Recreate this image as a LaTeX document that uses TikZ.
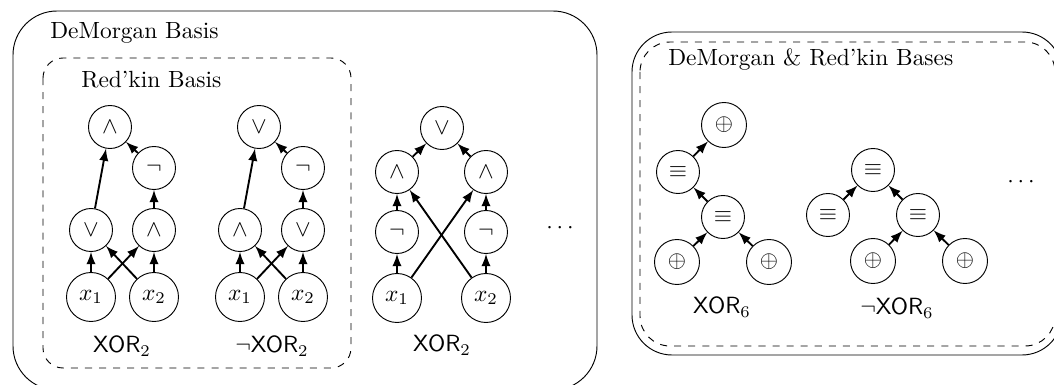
\documentclass[tikz,border=0pt]{standalone}
\usepackage{amssymb}
\usepackage{tikz}

\begin{document}
\begin{tikzpicture}
  \tikzset{op/.style={draw, circle, thin, minimum size=0.645cm, inner sep=0pt},
    var/.style={op, minimum size=0.735cm},
    xo/.style={op, minimum size=0.675cm},
    arr/.style={-latex, thick},
    lbl/.style={font=\sffamily}}
\useasboundingbox (0,0) rectangle (15.81,-5.775);
\draw[rounded corners=0.66cm] (0.195,-0.165) rectangle (8.955,-5.85);
\draw[dashed, rounded corners=0.3cm] (0.645,-0.87) rectangle (5.265,-5.52);
\node[anchor=west] (dm) at (0.63,-0.495) {DeMorgan Basis};
\node[anchor=west] (rk) at (1.095,-1.2) {Red'kin Basis};
\node[op] (a1) at (1.65,-1.905) {$\wedge$};
\node[op] (n1) at (2.31,-2.52) {$\neg$};
\node[op] (o1) at (1.365,-3.45) {$\vee$};
\node[op] (b1) at (2.31,-3.45) {$\wedge$};
\node[var] (p1) at (1.365,-4.455) {$x_1$};
\node[var] (q1) at (2.31,-4.455) {$x_2$};
\node[lbl] (l1) at (1.83,-5.19) {XOR$_2$};
\draw[arr] (p1) -- (o1); \draw[arr] (p1) -- (b1); \draw[arr] (q1) -- (o1); \draw[arr] (q1) -- (b1);
\draw[arr] (o1) -- (a1); \draw[arr] (b1) -- (n1); \draw[arr] (n1) -- (a1);
\node[op] (a2) at (3.885,-1.905) {$\vee$};
\node[op] (n2) at (4.545,-2.52) {$\neg$};
\node[op] (o2) at (3.6,-3.45) {$\wedge$};
\node[op] (b2) at (4.545,-3.45) {$\vee$};
\node[var] (p2) at (3.6,-4.455) {$x_1$};
\node[var] (q2) at (4.545,-4.455) {$x_2$};
\node[lbl] (l2) at (4.08,-5.19) {$\neg$XOR$_2$};
\draw[arr] (p2) -- (o2); \draw[arr] (p2) -- (b2); \draw[arr] (q2) -- (o2); \draw[arr] (q2) -- (b2);
\draw[arr] (o2) -- (a2); \draw[arr] (b2) -- (n2); \draw[arr] (n2) -- (a2);
\node[op] (t3) at (6.63,-1.92) {$\vee$};
\node[op] (al3) at (5.955,-2.58) {$\wedge$};
\node[op] (ar3) at (7.29,-2.58) {$\wedge$};
\node[op] (nl3) at (5.955,-3.48) {$\neg$};
\node[op] (nr3) at (7.29,-3.48) {$\neg$};
\node[var] (p3) at (5.955,-4.47) {$x_1$};
\node[var] (q3) at (7.29,-4.47) {$x_2$};
\node[lbl] (l3) at (6.63,-5.175) {XOR$_2$};
\node (d1) at (8.4,-3.42) {$\cdots$};
\draw[arr] (p3) -- (nl3); \draw[arr] (nl3) -- (al3); \draw[arr] (p3) -- (ar3);
\draw[arr] (q3) -- (nr3); \draw[arr] (nr3) -- (ar3); \draw[arr] (q3) -- (al3);
\draw[arr] (al3) -- (t3); \draw[arr] (ar3) -- (t3);
\draw[rounded corners=0.6cm] (9.48,-0.48) rectangle (15.93,-5.325);
\draw[dashed, rounded corners=0.45cm] (9.6,-0.63) rectangle (15.825,-5.19);
\node[anchor=west] (both) at (9.9,-0.9) {DeMorgan \& Red'kin Bases};
\node[xo] (x4) at (10.86,-1.875) {$\oplus$};
\node[op] (e4) at (10.17,-2.58) {$\equiv$};
\node[op] (f4) at (10.845,-3.255) {$\equiv$};
\node[xo] (u4) at (10.155,-3.93) {$\oplus$};
\node[xo] (v4) at (11.535,-3.93) {$\oplus$};
\node[lbl] (l4) at (10.83,-4.605) {XOR$_6$};
\draw[arr] (u4) -- (f4); \draw[arr] (v4) -- (f4); \draw[arr] (f4) -- (e4); \draw[arr] (e4) -- (x4);
\node[op] (e5) at (13.095,-2.55) {$\equiv$};
\node[op] (g5) at (12.42,-3.225) {$\equiv$};
\node[op] (f5) at (13.77,-3.225) {$\equiv$};
\node[xo] (u5) at (13.095,-3.915) {$\oplus$};
\node[xo] (v5) at (14.475,-3.915) {$\oplus$};
\node[lbl] (l5) at (13.455,-4.62) {$\neg$XOR$_6$};
\node (d2) at (15.315,-2.73) {$\cdots$};
\draw[arr] (g5) -- (e5); \draw[arr] (f5) -- (e5); \draw[arr] (u5) -- (f5); \draw[arr] (v5) -- (f5);
\end{tikzpicture}
\end{document}
